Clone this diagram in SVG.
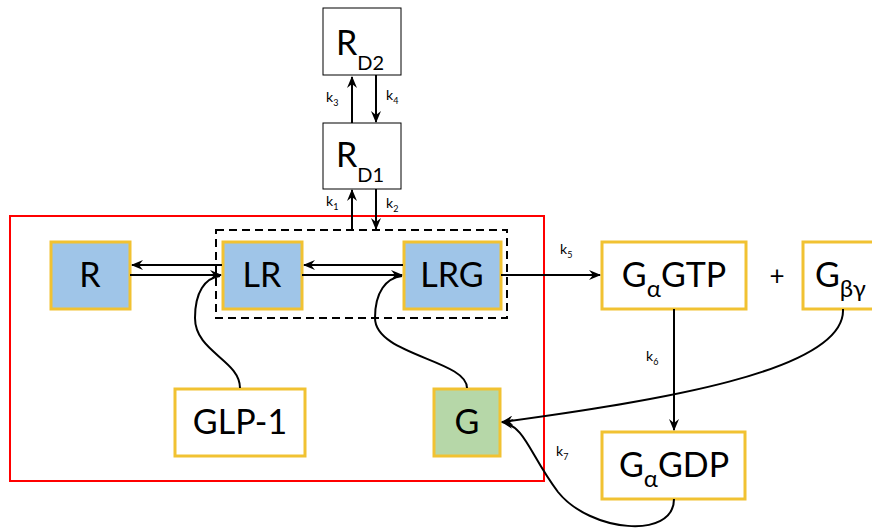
<svg xmlns="http://www.w3.org/2000/svg" width="872" height="529" viewBox="0 0 872 529">
<style>
text { font-family: "Lato", "Open Sans", "DejaVu Sans", sans-serif; fill: #000; }
.big { font-size: 34px; }
.k { font-size: 14px; }
.ks { font-size: 9px; }
.blue { fill: #9fc5e8; stroke: #f1c232; stroke-width: 3; }
.green { fill: #b6d7a8; stroke: #f1c232; stroke-width: 3; }
.white { fill: #ffffff; stroke: #f1c232; stroke-width: 3; }
.plain { fill: #ffffff; stroke: #000; stroke-width: 1; }
.line { fill: none; stroke: #000; stroke-width: 2; }
</style>
<defs>
<marker id="ah" viewBox="0 0 12 10" refX="11" refY="5" markerWidth="12" markerHeight="10" markerUnits="userSpaceOnUse" orient="auto">
<path d="M0,0 L12,5 L0,10 L4,5 z" fill="#000"/>
</marker>
</defs>
<rect x="0" y="0" width="872" height="529" fill="#fff"/>

<g id="compartment">
<rect x="10" y="216" width="534" height="265" fill="none" stroke="#ff0000" stroke-width="2"/>
<rect x="216" y="230" width="291" height="88" fill="none" stroke="#000" stroke-width="2" stroke-dasharray="8,5"/>
</g>

<g id="RD2">
<rect class="plain" x="323" y="8" width="78" height="67"/>
<text x="336" y="55" class="big" font-size="32">R<tspan dy="15" font-size="20">D2</tspan></text>
</g>
<g id="RD1">
<rect class="plain" x="323" y="123" width="78" height="66"/>
<text x="336" y="167" class="big" font-size="32">R<tspan dy="15" font-size="20">D1</tspan></text>
</g>

<g id="R">
<rect class="blue" x="51" y="242" width="79" height="67"/>
<text x="90" y="287" class="big" text-anchor="middle">R</text>
</g>
<g id="LR">
<rect class="blue" x="223" y="242" width="79" height="67"/>
<text x="262" y="287" class="big" text-anchor="middle">LR</text>
</g>
<g id="LRG">
<rect class="blue" x="404" y="242" width="97" height="67"/>
<text x="452" y="287" class="big" text-anchor="middle">LRG</text>
</g>
<g id="GLP1">
<rect class="white" x="175" y="389" width="130" height="67"/>
<text x="240" y="434" class="big" text-anchor="middle" font-size="32">GLP-1</text>
</g>
<g id="G">
<rect class="green" x="434" y="389" width="66" height="67"/>
<text x="467" y="434" class="big" text-anchor="middle" font-size="32">G</text>
</g>
<g id="GaGTP">
<rect class="white" x="602" y="242" width="144" height="67"/>
<text x="674" y="287" class="big" text-anchor="middle">G<tspan dy="10" font-size="24">α</tspan><tspan dy="-10">GTP</tspan></text>
</g>
<g id="plus">
<text x="777" y="285" font-size="26" text-anchor="middle">+</text>
</g>
<g id="Gbg">
<rect class="white" x="803" y="242" width="80" height="67"/>
<text x="815" y="287" class="big">G<tspan dy="10" font-size="24">βγ</tspan></text>
</g>
<g id="GaGDP">
<rect class="white" x="602" y="432" width="143" height="67"/>
<text x="674" y="477" class="big" text-anchor="middle">G<tspan dy="10" font-size="24">α</tspan><tspan dy="-10">GDP</tspan></text>
</g>

<g id="connectors">
<line class="line" x1="352" y1="123" x2="352" y2="77" marker-end="url(#ah)"/>
<line class="line" x1="376" y1="75" x2="376" y2="122" marker-end="url(#ah)"/>
<line class="line" x1="352" y1="230" x2="352" y2="190" marker-end="url(#ah)"/>
<line class="line" x1="376" y1="189" x2="376" y2="229" marker-end="url(#ah)"/>
<line class="line" x1="222" y1="265" x2="132" y2="265" marker-end="url(#ah)"/>
<line class="line" x1="130" y1="275" x2="221" y2="275" marker-end="url(#ah)"/>
<line class="line" x1="403" y1="265" x2="304" y2="265" marker-end="url(#ah)"/>
<line class="line" x1="302" y1="275" x2="402" y2="275" marker-end="url(#ah)"/>
<line class="line" x1="501" y1="275" x2="600" y2="275" marker-end="url(#ah)"/>
<line class="line" x1="674" y1="309" x2="674" y2="430" marker-end="url(#ah)"/>
<path class="line" d="M240,388 C240,360 195,352 195,318 C195,292 205,278 220,276"/>
<path class="line" d="M467,388 C467,360 375,355 375,318 C375,292 386,278 402,276"/>
<path class="line" d="M843,309 C846,372 650,402 502,422" marker-end="url(#ah)"/>
<path class="line" d="M674,499 C674,540 590,532 558,492 C530,455 525,426 502,422" marker-end="url(#ah)"/>
<text x="326" y="102" class="k">k<tspan dy="4" class="ks">3</tspan></text>
<text x="386" y="100" class="k">k<tspan dy="4" class="ks">4</tspan></text>
<text x="326" y="206" class="k">k<tspan dy="4" class="ks">1</tspan></text>
<text x="386" y="208" class="k">k<tspan dy="4" class="ks">2</tspan></text>
<text x="560" y="254" class="k">k<tspan dy="4" class="ks">5</tspan></text>
<text x="646" y="361" class="k">k<tspan dy="4" class="ks">6</tspan></text>
<text x="556" y="456" class="k">k<tspan dy="4" class="ks">7</tspan></text>
</g>
</svg>
